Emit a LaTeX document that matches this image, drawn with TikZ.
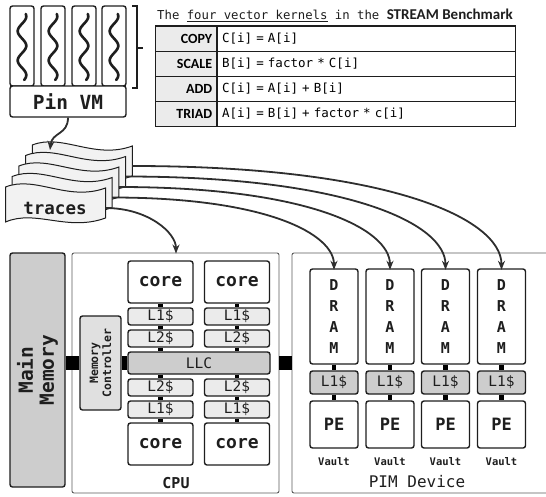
\documentclass[tikz,border=0pt]{standalone}
\usepackage{fontspec}
\setmainfont{DejaVu Sans Mono}
\newfontfamily\labfont{Carlito}
\usetikzlibrary{arrows.meta,calc}
\definecolor{ink}{HTML}{1E1E1E}
\definecolor{lnk}{HTML}{2E2E2E}
\definecolor{gmid}{HTML}{CDCDCD}
\definecolor{glight}{HTML}{EBEBEB}
\definecolor{gctl}{HTML}{E0E0E0}
\definecolor{gdoc}{HTML}{F2F2F2}
\definecolor{frame}{HTML}{5A5A5A}
\tikzset{
  blk/.style={draw=ink, line width=1.4pt, rounded corners=2.5pt, inner sep=0pt, text=ink},
  thread/.style={blk, minimum width=24pt, minimum height=80pt},
  cachebox/.style={blk, fill=glight, minimum width=65pt, minimum height=17pt, font=\fontsize{14.5}{16}\selectfont},
  corebox/.style={blk, fill=white, minimum width=65pt, minimum height=42pt, font=\bfseries\fontsize{18}{20}\selectfont},
  drambox/.style={blk, fill=white, minimum width=48pt, minimum height=95pt, align=center, font=\bfseries\fontsize{15}{20.7}\selectfont},
  pl1box/.style={blk, fill=gmid, minimum width=48pt, minimum height=23pt, font=\fontsize{14.5}{16}\selectfont},
  pebox/.style={blk, fill=white, minimum width=48pt, minimum height=47pt, font=\bfseries\fontsize{17}{20}\selectfont},
  outer/.style={draw=frame, line width=0.9pt, rounded corners=2pt, inner sep=0pt},
  lcell/.style={draw=ink, line width=0.8pt, fill=glight, minimum width=61pt, minimum height=25pt, inner sep=0pt, text width=52pt, align=right, font=\labfont\bfseries\fontsize{14}{15}\selectfont},
  ecell/.style={draw=ink, line width=0.8pt, fill=white, minimum width=298pt, minimum height=25pt, inner sep=0pt, text width=288pt, align=left, font=\fontsize{12.5}{14}\selectfont},
  bar/.style={draw=black, line width=14pt},
  vbar/.style={draw=black, line width=4.5pt},
  squig/.style={draw=ink, line width=2.6pt, line cap=round, line join=round},
  flow/.style={draw=lnk, line width=1.8pt, -{Stealth[length=9pt,width=7pt]}},
  doc/.style={draw=ink, line width=1pt, fill=gdoc},
}
\begin{document}
\begin{tikzpicture}[x=1pt,y=-1pt]
\useasboundingbox (0,0) rectangle (546,496);

% ---- Pin VM and threads
\foreach \cx [count=\i] in {22,53,84,114}{
  \node[thread] (th\i) at (\cx,46) {};
  \draw[squig] plot[smooth, domain=0:1, samples=50] ({\cx+4.3*sin(\x*810+60)}, {14+66*\x});
}
\node[blk, fill=white, minimum width=116pt, minimum height=31pt, font=\bfseries\fontsize{19.5}{22}\selectfont] (pin) at (68,101.5) {Pin VM};
\draw[draw=ink, line width=1.1pt] (132,6) -- (137,6) -- (137,88) -- (132,88) (137,48) -- (143,48);

% ---- Table
\node[anchor=west, inner sep=0pt, text=ink, font=\fontsize{12.3}{14}\selectfont] (title) at (157,15)
  {The \underline{four vector kernels} in the {\labfont\bfseries\fontsize{15}{16}\selectfont STREAM Benchmark}};
\node[lcell] (l1) at (186.2,38.75) {COPY};
\node[ecell] (e1) at (366,38.75) {C[i] = A[i]};
\node[lcell] (l2) at (186.2,63.75) {SCALE};
\node[ecell] (e2) at (366,63.75) {B[i] = factor * C[i]};
\node[lcell] (l3) at (186.2,88.75) {ADD};
\node[ecell] (e3) at (366,88.75) {C[i] = A[i] + B[i]};
\node[lcell] (l4) at (186.2,113.75) {TRIAD};
\node[ecell] (e4) at (366,113.75) {A[i] = B[i] + factor * c[i]};
\draw[draw=ink, line width=1.4pt] (l1.north west) rectangle (e4.south east);

% ---- Outer boxes
\node[outer, minimum width=207pt, minimum height=240pt] (cpu) at (175.5,373) {};
\node[outer, minimum width=280pt, minimum height=240pt] (pim) at (432,373) {};
\node[blk, fill=gmid, minimum width=55pt, minimum height=234pt] (mm) at (37.5,370)
  {\rotatebox{90}{\parbox{80pt}{\centering\bfseries\fontsize{19.5}{21}\selectfont Main\\Memory}}};
\node[blk, fill=gctl, minimum width=41pt, minimum height=94pt] (mc) at (100.5,363)
  {\rotatebox{90}{\parbox{80pt}{\centering\bfseries\fontsize{11.5}{13}\selectfont Memory\\Controller}}};

% ---- CPU internals
\node[blk, fill=gmid, minimum width=142pt, minimum height=22pt, font=\fontsize{14.5}{16}\selectfont] (llc) at (199,363) {LLC};
\foreach \cx/\n in {160.5/a,237/b}{
  \node[corebox] (ct\n) at (\cx,282) {core};
  \node[cachebox] (l1t\n) at (\cx,316.5) {L1\$};
  \node[cachebox] (l2t\n) at (\cx,338.5) {L2\$};
  \node[cachebox] (l2b\n) at (\cx,387.5) {L2\$};
  \node[cachebox] (l1b\n) at (\cx,409.5) {L1\$};
  \node[corebox] (cb\n) at (\cx,444) {core};
  \draw[vbar] (ct\n.south) -- (l1t\n.north);
  \draw[vbar] (l1t\n.south) -- (l2t\n.north);
  \draw[vbar] (l2t\n.south) -- (l2t\n.south |- llc.north);
  \draw[vbar] (l2b\n.north |- llc.south) -- (l2b\n.north);
  \draw[vbar] (l2b\n.south) -- (l1b\n.north);
  \draw[vbar] (l1b\n.south) -- (cb\n.north);
}
\node[text=ink, font=\bfseries\fontsize{15}{16}\selectfont] (cpul) at (176,483) {CPU};

% ---- PIM internals
\foreach \cx [count=\i] in {334,390,445.5,501.5}{
  \node[drambox] (dr\i) at (\cx,316.5) {D\\R\\A\\M};
  \node[pl1box] (pc\i) at (\cx,382.5) {L1\$};
  \node[pebox] (pe\i) at (\cx,424.5) {PE};
  \node[text=ink, font=\bfseries\fontsize{10.5}{12}\selectfont] (va\i) at (\cx,462) {Vault};
  \draw[vbar] (dr\i.south) -- (pc\i.north);
  \draw[vbar] (pc\i.south) -- (pe\i.north);
}
\node[text=ink, font=\fontsize{16}{18}\selectfont] (piml) at (417,482) {PIM Device};

% ---- black links
\draw[bar] (mc.west -| mm.east) -- (mc.west);
\draw[bar] (mc.east) -- (mc.east -| llc.west);
\draw[bar] (llc.east -| cpu.east) -- (llc.east -| pim.west);

% ---- traces stack
\foreach \k in {4,3,2,1,0}{
  \coordinate (o\k) at ({5.5+6.7*\k},{187-10.5*\k});
  \draw[doc] ($(o\k)+(0,0)$) .. controls ($(o\k)+(30,-12)$) and ($(o\k)+(62,15)$) .. ($(o\k)+(100,1)$)
     -- ($(o\k)+(100,31)$) .. controls ($(o\k)+(62,45)$) and ($(o\k)+(30,22)$) .. ($(o\k)+(0,35)$) -- cycle;
  \coordinate (t\k) at ($(o\k)+(100,21)$);
}
\node[text=ink, font=\bfseries\fontsize{17.5}{20}\selectfont] (tr) at (55,208) {traces};
\coordinate (trin) at (50,150);

% ---- flows
\draw[flow] (pin.south) .. controls (68,135) and (52,132) .. (trin);
\foreach \k in {1,2,3,4}{
  \draw[flow] (t\k) .. controls ($(t\k)!0.7!(t\k -| dr\k.north)$) and ($(dr\k.north)!0.48!(dr\k.north |- t\k)$) .. ([yshift=-1.5pt]dr\k.north);
}
\draw[flow] (t0) .. controls ($(t0)!0.6!(t0 -| cpul)$) and ($(cpu.north -| cpul)!0.45!(t0 -| cpul)$) .. ([yshift=-1pt]cpu.north -| cpul);
\end{tikzpicture}
\end{document}
